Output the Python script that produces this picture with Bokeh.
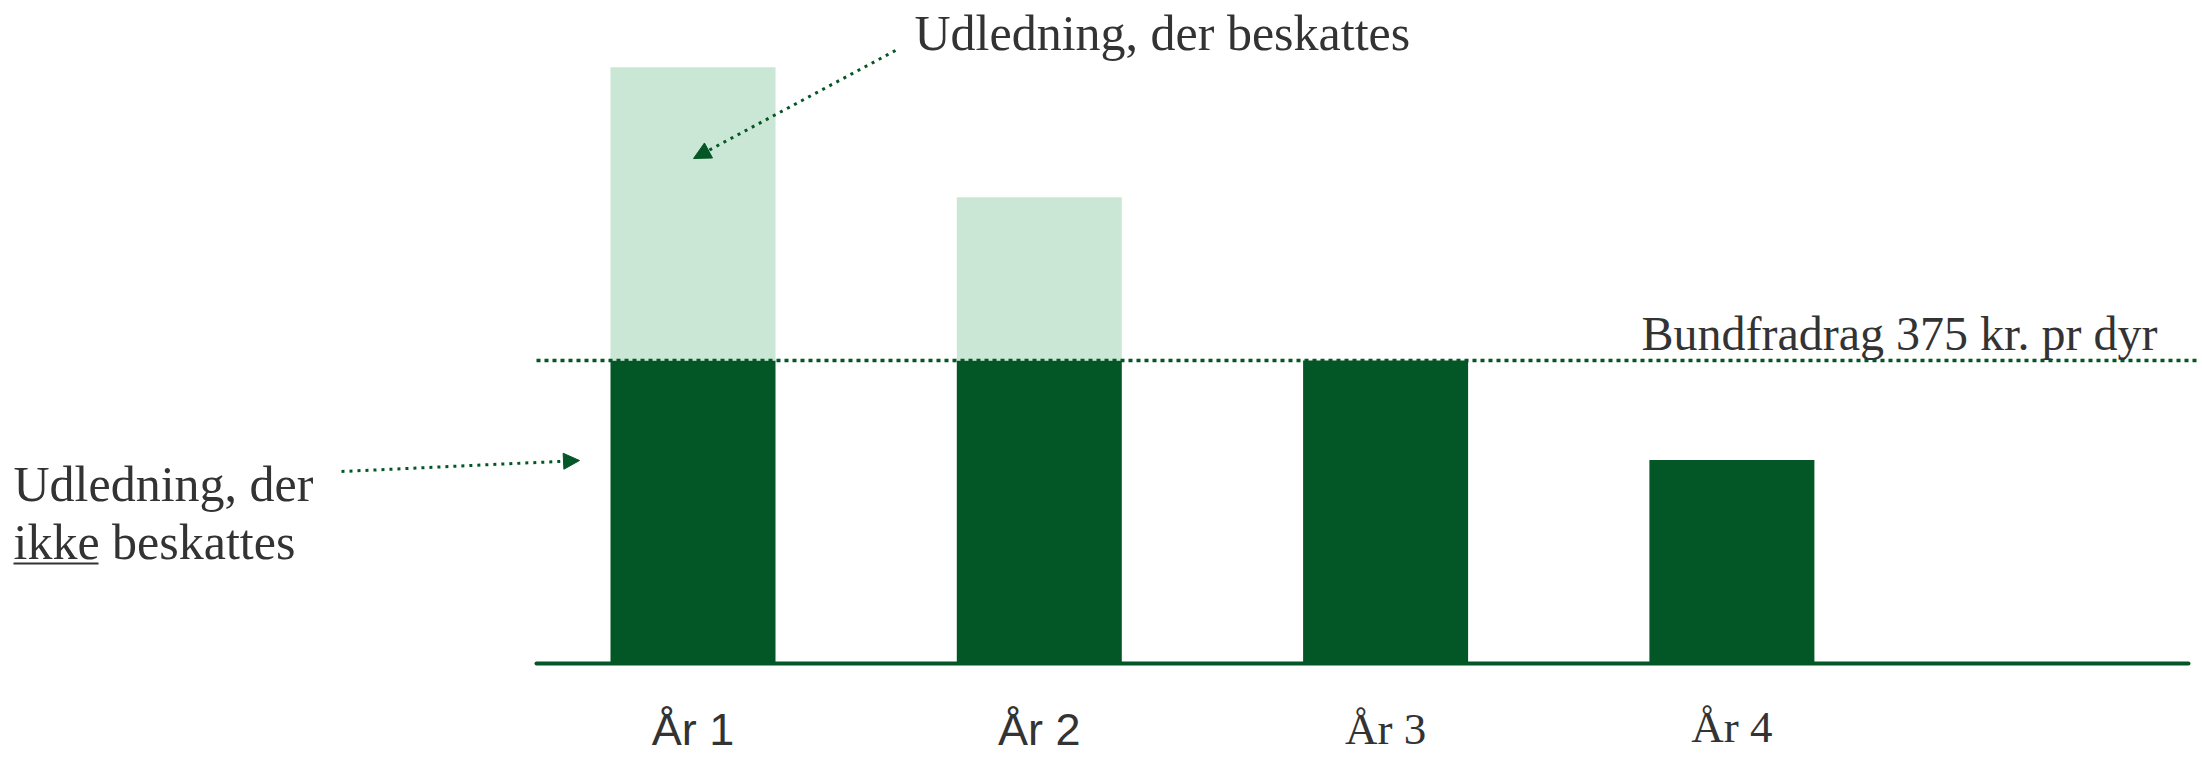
from bokeh.plotting import figure
from bokeh.models import ColumnDataSource, Range1d, Arrow, NormalHead
from bokeh.core.properties import value
from bokeh.embed import file_html
from bokeh.resources import INLINE

# ---- data ----
categories = ["År 1", "År 2", "År 3", "År 4"]
udledning = [738, 577, 375, 252]          # total udledning pr. år
bundfradrag = 375                          # kr. pr dyr
label_fonts = ["Liberation Sans", "Liberation Sans", "Liberation Serif", "Liberation Serif"]

DARK = "#035625"
LIGHT = "#CAE7D6"
TEXT = "#333333"

W, H = 2200, 759

# pixel <-> data helpers
PX_PER_X = 346.3
X1_REF = 692.5
PX_PER_Y = 303 / 375
Y0_REF = 663
BASE_FIX = 0.32  # em shift to compensate rendered baseline


def dx(px):
    return 1 + (px - X1_REF) / PX_PER_X


def dy(py):
    return (Y0_REF - py) / PX_PER_Y


def ty(py, size):
    return dy(py - BASE_FIX * size)


xs = list(range(1, len(categories) + 1))
dark_top = [min(v, bundfradrag) for v in udledning]
light_bottom = [bundfradrag if v > bundfradrag else v for v in udledning]

src = ColumnDataSource(dict(x=xs, dark=dark_top, lb=light_bottom, total=udledning))

p = figure(width=W, height=H, output_backend="svg", toolbar_location=None,
           x_range=Range1d(dx(0), dx(W)), y_range=Range1d(dy(H), dy(0)),
           min_border=0)
p.xaxis.visible = False
p.yaxis.visible = False
p.grid.visible = False
p.outline_line_color = None
p.background_fill_color = "white"

bw = 165 / PX_PER_X
p.vbar(x="x", bottom=0, top="dark", width=bw, source=src, fill_color=DARK, line_color=None)
p.vbar(x="x", bottom="lb", top="total", width=bw, source=src, fill_color=LIGHT, line_color=None)

# baseline (x-axis line)
p.segment(x0=[dx(536)], y0=[0], x1=[dx(2188)], y1=[0], line_color=DARK, line_width=4, line_cap="round")

# threshold dotted line
p.segment(x0=[dx(536)], y0=[bundfradrag], x1=[dx(2202)], y1=[bundfradrag],
          line_color=DARK, line_width=3.5, line_dash="4 4")

# category labels
LS = 45
label_base = [743, 743, 743, 741]
for i, (c, f) in enumerate(zip(categories, label_fonts)):
    p.text(x=[xs[i]], y=[ty(label_base[i], LS)], text=[c], text_font=value(f),
           text_font_size=f"{LS}px", text_color=TEXT, text_align="center",
           text_baseline="alphabetic")

# annotations
p.text(x=[dx(1641)], y=[ty(348, 48)], text=["Bundfradrag 375 kr. pr dyr"],
       text_font=value("Liberation Serif"), text_font_size="48px", text_color=TEXT,
       text_baseline="alphabetic")
p.text(x=[dx(914)], y=[ty(48, 50)], text=["Udledning, der beskattes"],
       text_font=value("Liberation Serif"), text_font_size="50px", text_color=TEXT,
       text_baseline="alphabetic")
p.text(x=[dx(13)], y=[ty(499, 50)], text=["Udledning, der"],
       text_font=value("Liberation Serif"), text_font_size="50px", text_color=TEXT,
       text_baseline="alphabetic")
p.text(x=[dx(13)], y=[ty(557, 50)], text=["ikke beskattes"],
       text_font=value("Liberation Serif"), text_font_size="50px", text_color=TEXT,
       text_baseline="alphabetic")
p.segment(x0=[dx(13)], y0=[dy(563)], x1=[dx(98)], y1=[dy(563)], line_color=TEXT, line_width=2)

# arrows
p.add_layout(Arrow(end=NormalHead(size=17, fill_color=DARK, line_color=DARK),
                   x_start=dx(895), y_start=dy(50), x_end=dx(693), y_end=dy(158),
                   line_color=DARK, line_width=3, line_dash="3 5"))
p.add_layout(Arrow(end=NormalHead(size=16, fill_color=DARK, line_color=DARK),
                   x_start=dx(341), y_start=dy(471), x_end=dx(579), y_end=dy(460),
                   line_color=DARK, line_width=3, line_dash="3 5"))

open("out.html", "w").write(file_html(p, INLINE))
